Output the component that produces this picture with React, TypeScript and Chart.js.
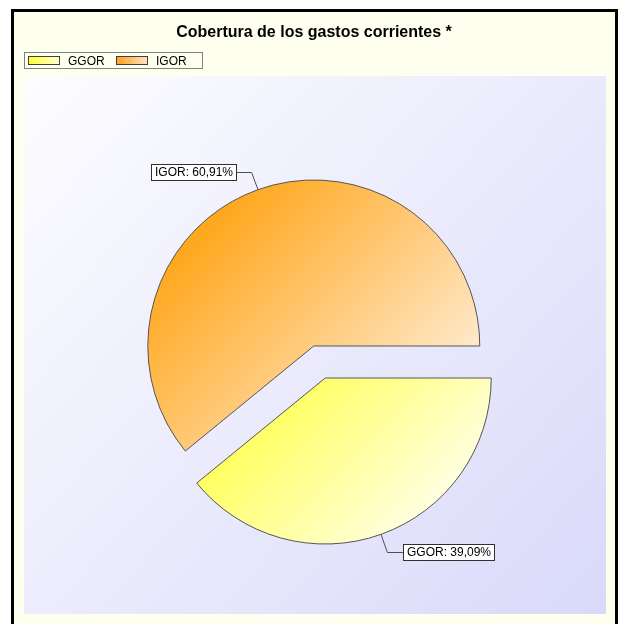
import React, { useEffect, useRef } from 'react';
import { Chart, registerables } from 'chart.js';

Chart.register(...registerables);

const TITLE = 'Cobertura de los gastos corrientes *';
const categories = ['GGOR', 'IGOR'];
const values = [39.09, 60.91];
const darkColors = ['#ffff5e', '#ffa81e'];
const lightColors = ['#ffffe2', '#ffe9cc'];
const legendDark = ['#ffff30', '#ffa020'];
const legendLight = ['#ffffd8', '#ffe4c4'];
// gradient start / end along the diagonal, relative to the pie centre
const gradStart = [-14, -113];
const gradEnd = [120, 84];

const RADIUS = 166;
const OFFSET = 68; // chart.js draws offset/4 translation
const FONT = "'Liberation Sans', Arial, sans-serif";

const fmt = (v: number) => v.toFixed(2).replace('.', ',') + '%';

const framePlugin = {
  id: 'framePlugin',
  beforeDraw(chart: any) {
    const ctx = chart.ctx as CanvasRenderingContext2D;
    ctx.save();
    ctx.fillStyle = '#ffffff';
    ctx.fillRect(0, 0, chart.width, chart.height);
    // ivory frame with black border
    ctx.fillStyle = '#fffff0';
    ctx.fillRect(12, 10, 604, 640);
    ctx.strokeStyle = '#000000';
    ctx.lineWidth = 3;
    ctx.strokeRect(12.5, 10.5, 604, 640);
    // plot area gradient
    const g = ctx.createLinearGradient(24, 76, 606, 614);
    g.addColorStop(0, '#fdfdff');
    g.addColorStop(1, '#d9d9fa');
    ctx.fillStyle = g;
    ctx.fillRect(24, 76, 582, 538);
    // title
    ctx.fillStyle = '#000000';
    ctx.font = `bold 16px ${FONT}`;
    ctx.textAlign = 'center';
    ctx.textBaseline = 'alphabetic';
    ctx.fillText(TITLE, 314, 37);
    // legend
    ctx.lineWidth = 1;
    ctx.strokeStyle = '#808080';
    ctx.strokeRect(24.5, 52.5, 178, 16);
    const sw = [28.5, 116.5];
    const tx = [68, 156];
    ctx.font = `12px ${FONT}`;
    ctx.textAlign = 'left';
    categories.forEach((c, i) => {
      const lg = ctx.createLinearGradient(sw[i], 0, sw[i] + 31, 0);
      lg.addColorStop(0, legendDark[i]);
      lg.addColorStop(1, legendLight[i]);
      ctx.fillStyle = lg;
      ctx.fillRect(sw[i], 56.5, 31, 8);
      ctx.strokeStyle = '#404040';
      ctx.strokeRect(sw[i], 56.5, 31, 8);
      ctx.fillStyle = '#000000';
      ctx.fillText(c, tx[i], 64.5);
    });
    ctx.restore();
  },
  beforeDatasetsDraw(chart: any) {
    const meta = chart.getDatasetMeta(0);
    meta.data.forEach((arc: any) => {
      const off = (arc.options.offset || 0) / 4;
      const fix = 1 - Math.sin(Math.min(Math.PI, arc.circumference || 0));
      const radOff = off * fix;
      arc.outerRadius = RADIUS - radOff;
      // compensate the angular shrink chart.js applies with a radius offset
      if (!arc.$adj || arc.$adj.start !== arc.startAngle) {
        const da = radOff / (2 * Math.PI * RADIUS);
        arc.startAngle = arc.startAngle - da;
        arc.endAngle = arc.endAngle + da;
        arc.$adj = { start: arc.startAngle };
      }
    });
  },
  afterDatasetsDraw(chart: any) {
    const ctx = chart.ctx as CanvasRenderingContext2D;
    const meta = chart.getDatasetMeta(0);
    ctx.save();
    ctx.font = `12px ${FONT}`;
    meta.data.forEach((arc: any, i: number) => {
      const h = (arc.startAngle + arc.endAngle) / 2;
      const off = (arc.options.offset || 0) / 4;
      const c = Math.cos(h), s = Math.sin(h);
      const vx = arc.x + c * off, vy = arc.y + s * off;
      const px = vx + c * RADIUS, py = vy + s * RADIUS;
      const ex = px + c * 19, ey = py + s * 19;
      const dir = c < 0 ? -1 : 1;
      const hx = ex + dir * 16;
      ctx.strokeStyle = '#505050';
      ctx.lineWidth = 1;
      ctx.beginPath();
      ctx.moveTo(px, py);
      ctx.lineTo(ex, Math.round(ey) + 0.5);
      ctx.lineTo(hx, Math.round(ey) + 0.5);
      ctx.stroke();
      const text = `${categories[i]}: ${fmt(values[i])}`;
      const tw = ctx.measureText(text).width;
      const bw = Math.round(tw + 7);
      const bh = 16;
      const bx = Math.round(dir < 0 ? hx - bw : hx) + 0.5;
      const by = Math.round(ey - bh / 2) + 0.5;
      ctx.fillStyle = '#ffffff';
      ctx.fillRect(bx, by, bw, bh);
      ctx.strokeStyle = '#303030';
      ctx.strokeRect(bx, by, bw, bh);
      ctx.fillStyle = '#000000';
      ctx.textAlign = 'left';
      ctx.textBaseline = 'middle';
      ctx.fillText(text, bx + 3.5, by + bh / 2 + 0.5);
    });
    ctx.restore();
  },
};

export default function App() {
  const ref = useRef<HTMLCanvasElement | null>(null);
  useEffect(() => {
    if (!ref.current) return;
    const chart = new Chart(ref.current, {
      type: 'pie',
      data: {
        labels: categories,
        datasets: [
          {
            data: values,
            radius: RADIUS,
            offset: OFFSET,
            clip: false,
            borderColor: '#555555',
            borderWidth: 1,
            backgroundColor: (ctx: any) => {
              const chart = ctx.chart;
              const a = chart.chartArea;
              const i = ctx.dataIndex ?? 0;
              if (!a) return darkColors[i];
              const cx = (a.left + a.right) / 2;
              const cy = (a.top + a.bottom) / 2;
              const g = chart.ctx.createLinearGradient(
                cx + gradStart[i], cy + gradStart[i], cx + gradEnd[i], cy + gradEnd[i]
              );
              g.addColorStop(0, darkColors[i]);
              g.addColorStop(1, lightColors[i]);
              return g;
            },
          } as any,
        ],
      },
      options: {
        responsive: false,
        animation: false,
        rotation: 90,
        layout: { padding: { left: 24, right: 3, top: 100, bottom: 0 } },
        plugins: {
          legend: { display: false },
          title: { display: false },
          tooltip: { enabled: false },
        },
        events: [],
      } as any,
      plugins: [framePlugin],
    });
    return () => chart.destroy();
  }, []);
  return (
    <div style={{ position: 'fixed', left: 0, top: 0, width: 618, height: 624 }}>
      <canvas ref={ref} width={618} height={624} />
    </div>
  );
}
